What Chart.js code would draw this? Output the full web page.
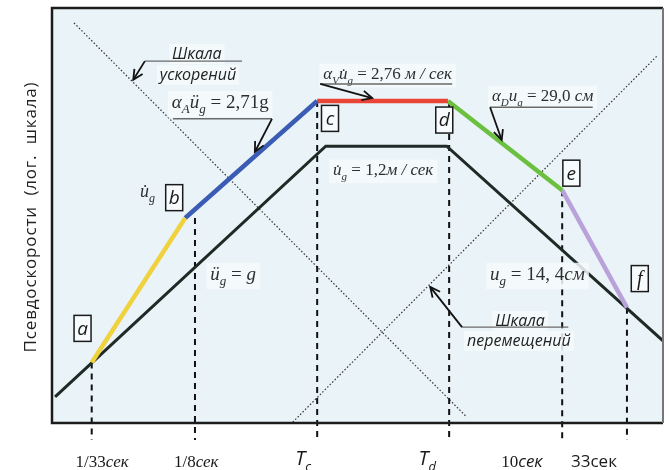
<!DOCTYPE html>
<html>
<head>
<meta charset="utf-8">
<script src="https://cdn.jsdelivr.net/npm/chart.js@4.4.0/dist/chart.umd.min.js"></script>
<style>
  body { margin: 0; background: #fff; }
</style>
</head>
<body>
<canvas id="grafico" width="669" height="470"></canvas>
<script>
// schematic spectrum, both axes in arbitrary units 0..100 (log scale in the original)
const groundX = [0.5, 44.8, 64.6, 100];
const groundY = [6.3, 66.7, 66.7, 19.8];

const spectrumNames = ['a', 'b', 'c', 'd', 'e', 'f'];
const spectrumX = [6.5, 21.8, 43.4, 64.8, 83.5, 94.1];
const spectrumY = [14.6, 49.4, 77.6, 77.6, 56.1, 27.8];

const periodX = [6.5, 23.4, 43.4, 65.0, 83.5, 94.1];
const periodTop = [14.6, 49.4, 77.6, 77.6, 56.1, 27.8];
const periodBottom = -4.1;

const accelScaleX = [3.6, 67.9];
const accelScaleY = [96.4, 1.4];
const dispScaleX = [39.4, 99.2];
const dispScaleY = [0.2, 88.7];

const tickLabels = ['1/33сек', '1/8сек', 'T_c', 'T_d', '10сек', '33сек'];
const tickPos = [8.2, 23.6, 41.1, 61.4, 76.9, 88.7];

const yTitle = 'Псевдоскорости  (лог.  шкала)';

// styles
const segmentColors = ['#f0d23e', '#3b5cb4', '#ea4437', '#6cc03f', '#b9a2d9'];
const plotBg = '#e9f3f8';
const noteBg = 'rgba(246,250,252,0.85)';
const SERIF = '"Liberation Serif", "DejaVu Serif", serif';
const SANS = '"Open Sans", "Liberation Sans", sans-serif';

// labels in data units
const boxX = [5.0, 20.0, 45.5, 64.2, 85.0, 96.2];
const boxY = [22.8, 54.3, 73.4, 73.0, 60.2, 34.8];

const notes = [
  { x: 19.6, y: 75.9, size: 19, segs: [['α', 'i'], ['A', 'i_'], ['ü', 'i'], ['g', 'i_'], [' = 2,71g', '']] },
  { x: 44.4, y: 82.9, size: 17, segs: [['α', 'i'], ['V', 'i_'], ['u̇', 'i'], ['g', 'i_'], [' = 2,76 ', ''], ['м / сек', 'i']] },
  { x: 72.0, y: 77.6, size: 17, segs: [['α', 'i'], ['D', 'i_'], ['u', 'i'], ['g', 'i_'], [' = 29,0 ', ''], ['см', 'i']] },
  { x: 25.9, y: 34.5, size: 19, segs: [['ü', 'i'], ['g', 'i_'], [' = ', ''], ['g', 'i']] },
  { x: 46.0, y: 59.8, size: 17, segs: [['u̇', 'i'], ['g', 'i_'], [' = 1,2', ''], ['м / сек', 'i']] },
  { x: 71.7, y: 34.5, size: 19, segs: [['u', 'i'], ['g', 'i_'], [' = 14, 4', ''], ['см', 'i']] },
  { x: 14.4, y: 54.5, size: 18, segs: [['u̇', 'i'], ['g', 'i_']], noBg: true }
];

const scaleNotes = [
  { x: 23.7, y: 87.7, text: 'Шкала' },
  { x: 23.9, y: 82.7, text: 'ускорений' },
  { x: 76.6, y: 23.4, text: 'Шкала' },
  { x: 76.4, y: 18.6, text: 'перемещений' }
];

const callouts = [
  [[31.1, 87.2], [15.2, 87.2], [13.3, 82.7]],
  [[19.8, 73.3], [36.0, 73.3], [33.2, 65.3]],
  [[65.5, 81.7], [43.9, 81.7], [52.4, 78.3]],
  [[88.5, 76.1], [71.7, 76.1], [73.6, 68.2]],
  [[84.5, 23.1], [67.1, 23.1], [61.9, 32.8]]
];

function toPoints(xs, ys) {
  return xs.map((x, i) => ({ x: x, y: ys[i] }));
}

function segFont(code, size) {
  const s = code.includes('_') ? Math.round(size * 0.66) : size;
  const fam = code.includes('S') ? SANS : SERIF;
  return (code.includes('i') ? 'italic ' : '') + s + 'px ' + fam;
}

function richWidth(ctx, segs, size) {
  let w = 0;
  segs.forEach((s) => {
    ctx.font = segFont(s[1], size);
    w += ctx.measureText(s[0]).width;
  });
  return w;
}

function drawRich(ctx, segs, x, y, size) {
  let cx = x;
  segs.forEach((s) => {
    ctx.font = segFont(s[1], size);
    const dy = s[1].includes('_') ? size * 0.28 : 0;
    ctx.fillText(s[0], cx, y + dy);
    cx += ctx.measureText(s[0]).width;
  });
}

function tickSegments(label) {
  if (label.startsWith('T_')) return [['T', 'Si'], [label.slice(2), 'Si_']];
  if (label === '33сек') return [[label, 'S']];
  const m = label.match(/^([0-9\/]+)(.*)$/);
  if (label === '10сек') return [[m[1], ''], [m[2], 'Si']];
  return [[m[1], ''], [m[2], 'i']];
}

function arrowHead(ctx, from, to) {
  const a = Math.atan2(to[1] - from[1], to[0] - from[0]);
  const len = 11, spread = 0.45;
  ctx.beginPath();
  ctx.moveTo(to[0] - len * Math.cos(a - spread), to[1] - len * Math.sin(a - spread));
  ctx.lineTo(to[0], to[1]);
  ctx.lineTo(to[0] - len * Math.cos(a + spread), to[1] - len * Math.sin(a + spread));
  ctx.stroke();
}

const decorPlugin = {
  id: 'decor',
  beforeDatasetsDraw(chart) {
    const { ctx, chartArea: ca } = chart;
    ctx.save();
    ctx.fillStyle = plotBg;
    ctx.fillRect(ca.left, ca.top, ca.right - ca.left, ca.bottom - ca.top);
    ctx.restore();
  },
  afterDatasetsDraw(chart) {
    const { ctx, chartArea: ca } = chart;
    const xs = chart.scales.x, ys = chart.scales.y;
    const px = (v) => xs.getPixelForValue(v);
    const py = (v) => ys.getPixelForValue(v);
    ctx.save();

    // frame
    ctx.lineWidth = 2.5;
    ctx.strokeStyle = '#1c1c1c';
    ctx.beginPath();
    ctx.moveTo(ca.right, ca.top);
    ctx.lineTo(ca.left, ca.top);
    ctx.lineTo(ca.left, ca.bottom);
    ctx.lineTo(ca.right, ca.bottom);
    ctx.stroke();
    ctx.strokeStyle = '#777';
    ctx.lineWidth = 2;
    ctx.beginPath();
    ctx.moveTo(ca.right, ca.top);
    ctx.lineTo(ca.right, ca.bottom);
    ctx.stroke();

    // formula notes
    ctx.textBaseline = 'alphabetic';
    ctx.textAlign = 'left';
    notes.forEach((n) => {
      const x = px(n.x), y = py(n.y);
      const w = richWidth(ctx, n.segs, n.size);
      if (!n.noBg) {
        ctx.fillStyle = noteBg;
        ctx.fillRect(x - 4, y - n.size * 0.9, w + 8, n.size * 1.4);
      }
      ctx.fillStyle = '#2e2e2e';
      drawRich(ctx, n.segs, x, y, n.size);
    });

    // scale notes
    ctx.font = 'italic 16px ' + SANS;
    ctx.textAlign = 'center';
    scaleNotes.forEach((n) => {
      const x = px(n.x), y = py(n.y);
      const w = ctx.measureText(n.text).width;
      ctx.fillStyle = noteBg;
      ctx.fillRect(x - w / 2 - 3, y - 15, w + 6, 20);
      ctx.fillStyle = '#222';
      ctx.fillText(n.text, x, y);
    });

    // callouts
    callouts.forEach((c) => {
      const p = c.map((q) => [px(q[0]), py(q[1])]);
      ctx.strokeStyle = '#6a6a6a';
      ctx.lineWidth = 1.4;
      ctx.beginPath();
      ctx.moveTo(p[0][0], p[0][1]);
      ctx.lineTo(p[1][0], p[1][1]);
      ctx.stroke();
      ctx.strokeStyle = '#111';
      ctx.lineWidth = 1.8;
      ctx.beginPath();
      ctx.moveTo(p[1][0], p[1][1]);
      ctx.lineTo(p[2][0], p[2][1]);
      ctx.stroke();
      arrowHead(ctx, p[1], p[2]);
    });

    // point boxes
    spectrumNames.forEach((name, i) => {
      const x = px(boxX[i]), y = py(boxY[i]);
      ctx.fillStyle = '#f7fbfd';
      ctx.fillRect(x - 8.5, y - 13, 17, 26);
      ctx.strokeStyle = '#1a1a1a';
      ctx.lineWidth = 1.5;
      ctx.strokeRect(x - 8.5, y - 13, 17, 26);
      ctx.fillStyle = '#1a1a1a';
      ctx.font = (name === 'f' ? 'italic 20px ' + SERIF : 'italic 19px ' + SANS);
      ctx.textAlign = 'center';
      ctx.textBaseline = 'middle';
      ctx.fillText(name, x, y + 1);
    });

    // tick labels
    ctx.textBaseline = 'alphabetic';
    ctx.textAlign = 'left';
    ctx.fillStyle = '#1a1a1a';
    tickLabels.forEach((lab, i) => {
      const segs = tickSegments(lab);
      const isT = lab.startsWith('T_');
      const size = isT ? 20 : 17;
      const w = richWidth(ctx, segs, size);
      drawRich(ctx, segs, px(tickPos[i]) - w / 2, ca.bottom + (isT ? 42 : 44), size);
    });

    // y title
    ctx.translate(31, 217);
    ctx.rotate(-Math.PI / 2);
    ctx.font = '17px ' + SANS;
    const tw = ctx.measureText(yTitle).width;
    if (tw < 270 && 'letterSpacing' in ctx) {
      ctx.letterSpacing = ((270 - tw) / (yTitle.length - 1)).toFixed(2) + 'px';
    }
    ctx.textAlign = 'center';
    ctx.textBaseline = 'middle';
    ctx.fillStyle = '#222';
    ctx.fillText(yTitle, 0, 0);
    ctx.restore();
  }
};

const datasets = [];
// spectrum segments a-b-c-d-e-f
for (let i = 0; i < spectrumX.length - 1; i++) {
  datasets.push({
    data: toPoints(spectrumX.slice(i, i + 2), spectrumY.slice(i, i + 2)),
    borderColor: segmentColors[i],
    borderWidth: 4.5,
    borderCapStyle: 'butt'
  });
}
datasets.push({
  data: toPoints(groundX, groundY),
  borderColor: '#1f2a26',
  borderWidth: 3
});
periodX.forEach((x, i) => {
  datasets.push({
    data: [{ x: x, y: periodTop[i] }, { x: x, y: periodBottom }],
    borderColor: '#111',
    borderWidth: 2,
    borderDash: [6, 5],
    clip: false
  });
});
datasets.push({
  data: toPoints(accelScaleX, accelScaleY),
  borderColor: '#333',
  borderWidth: 1.2,
  borderDash: [1.5, 2]
});
datasets.push({
  data: toPoints(dispScaleX, dispScaleY),
  borderColor: '#333',
  borderWidth: 1.2,
  borderDash: [1.5, 2]
});
datasets.forEach((d) => {
  d.showLine = true;
  d.pointRadius = 0;
  d.fill = false;
});

new Chart(document.getElementById('grafico').getContext('2d'), {
  type: 'scatter',
  data: { datasets: datasets },
  options: {
    responsive: false,
    animation: false,
    layout: { padding: { left: 52, top: 8, right: 6, bottom: 47 } },
    plugins: {
      legend: { display: false },
      tooltip: { enabled: false }
    },
    scales: {
      x: { type: 'linear', min: 0, max: 100, display: false },
      y: { type: 'linear', min: 0, max: 100, display: false }
    }
  },
  plugins: [decorPlugin]
});
</script>
</body>
</html>
